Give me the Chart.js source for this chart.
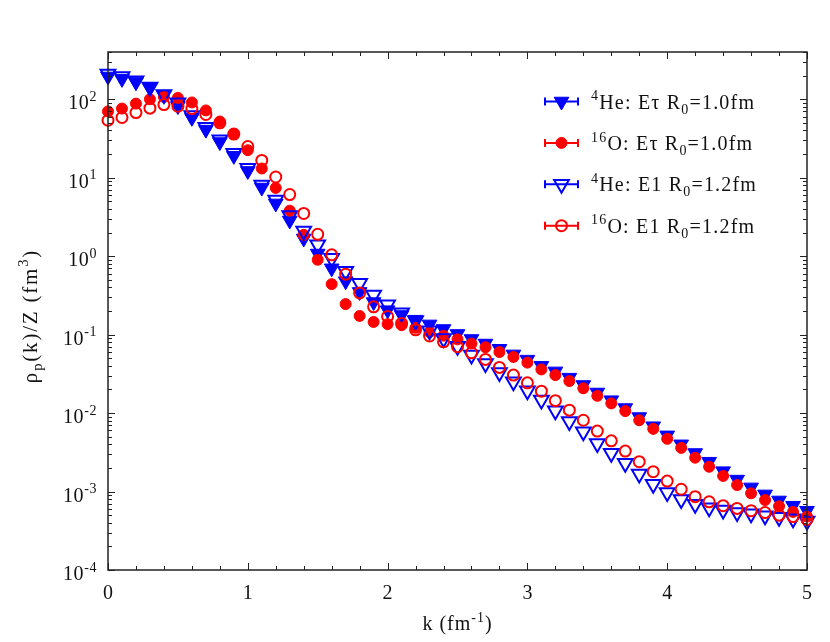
<!DOCTYPE html>
<html>
<head>
<meta charset="utf-8">
<script src="https://cdn.jsdelivr.net/npm/chart.js@4"></script>
<style>
  html, body { margin: 0; padding: 0; background: #fff; }
  #wrap { width: 830px; height: 642px; }
</style>
</head>
<body>
<div id="wrap"><canvas id="grafico"></canvas></div>
<script>
// momento k (fm^-1)
const kValues = [0.0, 0.1, 0.2, 0.3, 0.4, 0.5, 0.6, 0.7, 0.8, 0.9,
  1.0, 1.1, 1.2, 1.3, 1.4, 1.5, 1.6, 1.7, 1.8, 1.9,
  2.0, 2.1, 2.2, 2.3, 2.4, 2.5, 2.6, 2.7, 2.8, 2.9,
  3.0, 3.1, 3.2, 3.3, 3.4, 3.5, 3.6, 3.7, 3.8, 3.9,
  4.0, 4.1, 4.2, 4.3, 4.4, 4.5, 4.6, 4.7, 4.8, 4.9, 5.0];

// 4He: E-tau R0=1.0fm (triangulo cheio)
const heEtau = [195, 182, 166, 140, 113, 82, 58, 41, 28.5, 19,
  12.2, 7.5, 4.7, 2.85, 1.68, 1.08, 0.70, 0.48, 0.35, 0.26,
  0.205, 0.178, 0.155, 0.135, 0.118, 0.102, 0.088, 0.077, 0.066, 0.056,
  0.048, 0.040, 0.034, 0.0283, 0.0228, 0.0183, 0.0146, 0.0116, 0.0089, 0.0068,
  0.0052, 0.0040, 0.0031, 0.0024, 0.00182, 0.00142, 0.00113, 0.00092, 0.00077, 0.00066, 0.00057];

// 16O: E-tau R0=1.0fm (circulo cheio)
const oEtau = [70, 76, 88, 100, 107, 104, 91, 72, 52, 36,
  22.4, 13.1, 7.4, 3.8, 1.87, 0.90, 0.44, 0.245, 0.173, 0.145,
  0.136, 0.132, 0.122, 0.108, 0.097, 0.087, 0.077, 0.069, 0.060, 0.052,
  0.044, 0.036, 0.0305, 0.0256, 0.0207, 0.0166, 0.0133, 0.0106, 0.0081, 0.0063,
  0.0047, 0.0036, 0.0027, 0.00207, 0.00158, 0.00121, 0.00095, 0.00078, 0.00065, 0.00055, 0.00048];

// 4He: E1 R0=1.2fm (triangulo vazio)
const heE1 = [210, 195, 172, 143, 115, 90, 62, 44, 30.5, 20.5,
  13.2, 8.1, 5.2, 3.3, 2.1, 1.40, 0.94, 0.64, 0.45, 0.32,
  0.24, 0.19, 0.150, 0.112, 0.089, 0.071, 0.055, 0.043, 0.033, 0.025,
  0.0192, 0.0147, 0.0107, 0.0078, 0.0058, 0.0041, 0.00307, 0.00229, 0.00167, 0.00124,
  0.00097, 0.00079, 0.00069, 0.00062, 0.00058, 0.00054, 0.00052, 0.00049, 0.00047, 0.00045, 0.00042];

// 16O: E1 R0=1.2fm (circulo vazio)
const oE1 = [54, 58.5, 67.6, 77, 85.5, 81.5, 76, 64, 50, 36,
  25, 16.6, 10.2, 6.1, 3.5, 1.9, 1.04, 0.59, 0.34, 0.226,
  0.17, 0.139, 0.115, 0.096, 0.081, 0.070, 0.0586, 0.0483, 0.0382, 0.0305,
  0.0243, 0.019, 0.0144, 0.0109, 0.0081, 0.0059, 0.00443, 0.00328, 0.0024, 0.00179,
  0.00136, 0.00107, 0.00086, 0.00074, 0.00066, 0.00061, 0.00057, 0.00054, 0.0005, 0.00048, 0.00044];

const xTicks = [0, 1, 2, 3, 4, 5];
const yExpoentes = [-4, -3, -2, -1, 0, 1, 2];

const AZUL = '#0000ff';
const VERMELHO = '#ff0000';
const FONTE = '"Liberation Serif", "DejaVu Serif", serif';

function pontos(serie) {
  return kValues.map((k, i) => ({ x: k, y: serie[i] }));
}

// texto com sobrescrito (1) e subscrito (-1)
function textoRico(ctx, partes, x, y, tam, alinhar, esp) {
  ctx.letterSpacing = (esp || 0) + 'px';
  let larg = 0;
  const medidas = partes.map(([t, tipo]) => {
    ctx.font = `${tipo ? tam * 0.7 : tam}px ${FONTE}`;
    const w = ctx.measureText(t).width;
    larg += w;
    return w;
  });
  let cx = alinhar === 'center' ? x - larg / 2 : alinhar === 'right' ? x - larg : x;
  ctx.textAlign = 'left';
  ctx.textBaseline = 'alphabetic';
  partes.forEach(([t, tipo], i) => {
    ctx.font = `${tipo ? tam * 0.7 : tam}px ${FONTE}`;
    const dy = tipo === 1 ? -tam * 0.42 : tipo === -1 ? tam * 0.25 : 0;
    ctx.fillText(t, cx, y + dy);
    cx += medidas[i];
  });
  ctx.letterSpacing = '0px';
}

const legendaItens = [
  { cor: AZUL, estilo: 'triangle', cheio: true, partes: [['4', 1], ['He: Eτ R', 0], ['0', -1], ['=1.0fm', 0]] },
  { cor: VERMELHO, estilo: 'circle', cheio: true, partes: [['16', 1], ['O: Eτ R', 0], ['0', -1], ['=1.0fm', 0]] },
  { cor: AZUL, estilo: 'triangle', cheio: false, partes: [['4', 1], ['He: E1 R', 0], ['0', -1], ['=1.2fm', 0]] },
  { cor: VERMELHO, estilo: 'circle', cheio: false, partes: [['16', 1], ['O: E1 R', 0], ['0', -1], ['=1.2fm', 0]] }
];

function marcador(ctx, estilo, cheio, cor, x, y) {
  ctx.save();
  ctx.strokeStyle = cor;
  ctx.fillStyle = cor;
  ctx.lineWidth = cheio ? 1 : 2;
  ctx.beginPath();
  if (estilo === 'circle') {
    ctx.arc(x, y, 5.5, 0, Math.PI * 2);
  } else {
    const r = 8.5;
    ctx.moveTo(x, y + r);
    ctx.lineTo(x - r * 0.866, y - r / 2);
    ctx.lineTo(x + r * 0.866, y - r / 2);
    ctx.closePath();
  }
  if (cheio) ctx.fill();
  ctx.stroke();
  ctx.restore();
}

const moldura = {
  id: 'moldura',
  afterDraw(chart) {
    const ctx = chart.ctx;
    const a = chart.chartArea;
    const sx = chart.scales.x;
    const sy = chart.scales.y;
    ctx.save();
    ctx.strokeStyle = '#222';
    ctx.lineWidth = 1.5;
    ctx.strokeRect(a.left, a.top, a.right - a.left, a.bottom - a.top);

    ctx.lineWidth = 1;
    ctx.beginPath();
    // ticks x (para dentro, em baixo e em cima)
    for (let v = 0; v <= 50; v += 2) {
      const px = Math.round(sx.getPixelForValue(v / 10)) + 0.5;
      const len = v % 10 === 0 ? 7 : 4;
      ctx.moveTo(px, a.bottom); ctx.lineTo(px, a.bottom - len);
      ctx.moveTo(px, a.top); ctx.lineTo(px, a.top + len);
    }
    // ticks y log
    yExpoentes.forEach(e => {
      for (let m = 1; m <= 9; m++) {
        const v = m * Math.pow(10, e);
        if (v > sy.max) break;
        const py = Math.round(sy.getPixelForValue(v)) + 0.5;
        const len = m === 1 ? 7 : 4;
        ctx.moveTo(a.left, py); ctx.lineTo(a.left + len, py);
        ctx.moveTo(a.right, py); ctx.lineTo(a.right - len, py);
      }
    });
    ctx.stroke();

    ctx.fillStyle = '#111';
    // rotulos x
    xTicks.forEach(t => {
      textoRico(ctx, [[String(t), 0]], sx.getPixelForValue(t), 599, 20, 'center');
    });
    // rotulos y
    yExpoentes.forEach(e => {
      textoRico(ctx, [['10', 0], [String(e), 1]], 97, sy.getPixelForValue(Math.pow(10, e)) + 10, 20, 'right', 0.6);
    });
    // titulo x
    textoRico(ctx, [['k (fm', 0], ['-1', 1], [')', 0]], (a.left + a.right) / 2, 630, 20, 'center', 1);
    // titulo y
    ctx.save();
    ctx.translate(37, (a.top + a.bottom) / 2 + 5);
    ctx.rotate(-Math.PI / 2);
    textoRico(ctx, [['ρ', 0], ['p', -1], ['(k)/Z (fm', 0], ['3', 1], [')', 0]], 0, 0, 21, 'center', 1.8);
    ctx.restore();

    // legenda
    legendaItens.forEach((it, i) => {
      const y = 101.5 + i * 41.4;
      ctx.strokeStyle = it.cor;
      ctx.lineWidth = 2;
      ctx.beginPath();
      ctx.moveTo(545, y); ctx.lineTo(578, y);
      ctx.moveTo(545, y - 4); ctx.lineTo(545, y + 4);
      ctx.moveTo(578, y - 4); ctx.lineTo(578, y + 4);
      ctx.stroke();
      marcador(ctx, it.estilo, it.cheio, it.cor, 561.5, y);
      ctx.fillStyle = '#111';
      textoRico(ctx, it.partes, 591, y + 7, 20, 'left', 1.2);
    });
    ctx.restore();
  }
};

function conjunto(serie, estilo, cheio, cor) {
  return {
    data: pontos(serie),
    showLine: false,
    pointStyle: estilo,
    rotation: estilo === 'triangle' ? 180 : 0,
    pointRadius: estilo === 'triangle' ? 8.5 : 5.5,
    pointBorderWidth: cheio ? 1 : 2,
    pointBackgroundColor: cheio ? cor : 'rgba(0,0,0,0)',
    pointBorderColor: cor,
    clip: false
  };
}

document.addEventListener('DOMContentLoaded', function() {
  const ctx = document.getElementById('grafico').getContext('2d');
  new Chart(ctx, {
    type: 'scatter',
    data: {
      // o primeiro conjunto fica por cima
      datasets: [
        conjunto(oE1, 'circle', false, VERMELHO),
        conjunto(heE1, 'triangle', false, AZUL),
        conjunto(oEtau, 'circle', true, VERMELHO),
        conjunto(heEtau, 'triangle', true, AZUL)
      ]
    },
    options: {
      responsive: true,
      maintainAspectRatio: false,
      animation: false,
      layout: { padding: { left: 108, right: 23, top: 52, bottom: 72 } },
      scales: {
        x: { type: 'linear', min: 0, max: 5, display: false },
        y: { type: 'logarithmic', min: 1e-4, max: 400, display: false }
      },
      plugins: {
        legend: { display: false },
        tooltip: { enabled: false }
      }
    },
    plugins: [moldura]
  });
});
</script>
</body>
</html>
